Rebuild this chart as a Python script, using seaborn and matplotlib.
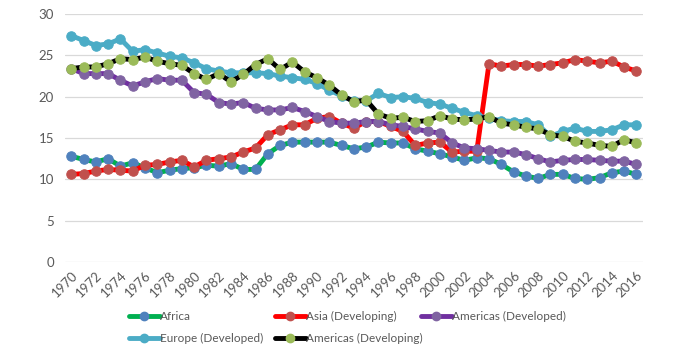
import numpy as np
import pandas as pd
import matplotlib.pyplot as plt
from matplotlib.lines import Line2D
import seaborn as sns

# datos
years = list(range(1970, 2017))

africa = [12.8, 12.4, 12.1, 12.5, 11.6, 12.0, 11.4, 10.8, 11.1, 11.3,
          11.4, 11.7, 11.6, 11.9, 11.2, 11.2, 13.1, 14.1, 14.5, 14.5,
          14.5, 14.5, 14.1, 13.7, 13.9, 14.5, 14.4, 14.4, 13.7, 13.4,
          13.1, 12.7, 12.3, 12.6, 12.5, 11.8, 10.9, 10.4, 10.1, 10.6,
          10.6, 10.1, 10.0, 10.2, 10.8, 11.0, 10.6]

asia = [10.6, 10.7, 11.0, 11.2, 11.1, 11.0, 11.7, 11.8, 12.1, 12.3,
        11.5, 12.3, 12.5, 12.7, 13.3, 13.8, 15.4, 16.0, 16.6, 16.6,
        17.4, 17.6, 16.8, 16.2, 17.0, 17.0, 16.4, 15.8, 14.1, 14.4,
        14.5, 13.3, 13.4, 13.4, 24.0, 23.7, 23.9, 23.9, 23.7, 23.9,
        24.1, 24.5, 24.3, 24.1, 24.3, 23.6, 23.1]

americas_dev = [23.4, 22.8, 22.8, 22.8, 22.0, 21.3, 21.8, 22.2, 22.0, 22.0,
                20.5, 20.3, 19.3, 19.1, 19.3, 18.6, 18.4, 18.4, 18.7, 18.2,
                17.6, 17.0, 16.8, 16.8, 17.0, 17.0, 16.6, 16.4, 16.1, 15.8,
                15.6, 14.4, 13.8, 13.7, 13.5, 13.3, 13.3, 13.0, 12.5, 12.1,
                12.3, 12.4, 12.4, 12.3, 12.2, 12.2, 11.8]

europe = [27.4, 26.8, 26.2, 26.4, 27.0, 25.5, 25.7, 25.3, 24.9, 24.7,
          24.1, 23.4, 23.1, 22.9, 22.9, 22.9, 22.8, 22.5, 22.3, 22.1,
          21.6, 20.8, 20.1, 19.5, 19.5, 20.4, 19.9, 20.0, 19.8, 19.3,
          19.1, 18.6, 18.1, 17.7, 17.4, 17.1, 17.0, 17.0, 16.6, 15.2,
          15.8, 16.2, 15.8, 15.8, 16.0, 16.6, 16.6]

americas_devg = [23.4, 23.6, 23.6, 24.0, 24.6, 24.5, 24.8, 24.3, 24.0, 23.8,
                 22.8, 22.1, 22.8, 21.8, 22.7, 23.9, 24.6, 23.3, 24.2, 23.0,
                 22.3, 21.4, 20.2, 19.4, 19.6, 17.9, 17.4, 17.5, 17.0, 17.1,
                 17.7, 17.3, 17.2, 17.3, 17.6, 16.8, 16.6, 16.3, 16.1, 15.4,
                 15.2, 14.6, 14.4, 14.1, 14.0, 14.8, 14.4]

names = ['Africa', 'Asia (Developing)', 'Americas (Developed)',
         'Europe (Developed)', 'Americas (Developing)']
series = [africa, asia, americas_dev, europe, americas_devg]
line_colors = ['#00b050', '#ff0000', '#7030a0', '#4bacc6', '#000000']
marker_colors = ['#4f81bd', '#c0504d', '#8064a2', '#4bacc6', '#9bbb59']

sns.set_style('white')
plt.rcParams['font.family'] = ['Lato', 'DejaVu Sans']

fig = plt.figure(figsize=(7, 3.53), dpi=100)
ax = fig.add_axes([0.093, 0.258, 0.825, 0.702])

handles = []
for name, vals, lc, mc in zip(names, series, line_colors, marker_colors):
    df = pd.DataFrame({'year': years, 'val': vals})
    sns.lineplot(data=df, x='year', y='val', ax=ax, color=lc, linewidth=3.5,
                 marker='o', markersize=6.8, markerfacecolor=mc,
                 markeredgecolor=mc, legend=False)
    handles.append(Line2D([], [], color=lc, linewidth=3.5, marker='o',
                          markersize=6, markerfacecolor=mc, markeredgecolor=mc))

ax.set_xlim(1969.5, 2016.5)
ax.set_ylim(0, 30)
ax.set_yticks([0, 5, 10, 15, 20, 25, 30])
ax.set_xticks(years[::2])
ax.set_xticklabels([str(y) for y in years[::2]], rotation=45, ha='right',
                   rotation_mode='anchor')
ax.tick_params(axis='both', colors='#595959', labelsize=9.5, length=0)
ax.tick_params(axis='y', pad=8)
ax.tick_params(axis='x', pad=5)
ax.set_xlabel('')
ax.set_ylabel('')
ax.grid(axis='y', color='#d9d9d9', linewidth=0.9)
for s in ax.spines.values():
    s.set_visible(False)

# leyenda en tres columnas de ancho fijo como en excel
columnas = [[0, 3], [1, 4], [2]]
xs = [129 / 700, 275 / 700, 421 / 700]
for cols, x0 in zip(columnas, xs):
    leg = fig.legend([handles[i] for i in cols], [names[i] for i in cols],
                     loc='upper left', bbox_to_anchor=(x0, 0.12),
                     frameon=False, fontsize=8.5, handlelength=2.6,
                     handletextpad=0.05, labelspacing=0.95, borderaxespad=0,
                     borderpad=0)
    for t in leg.get_texts():
        t.set_color('#595959')

fig.savefig('out.png', dpi=100)
